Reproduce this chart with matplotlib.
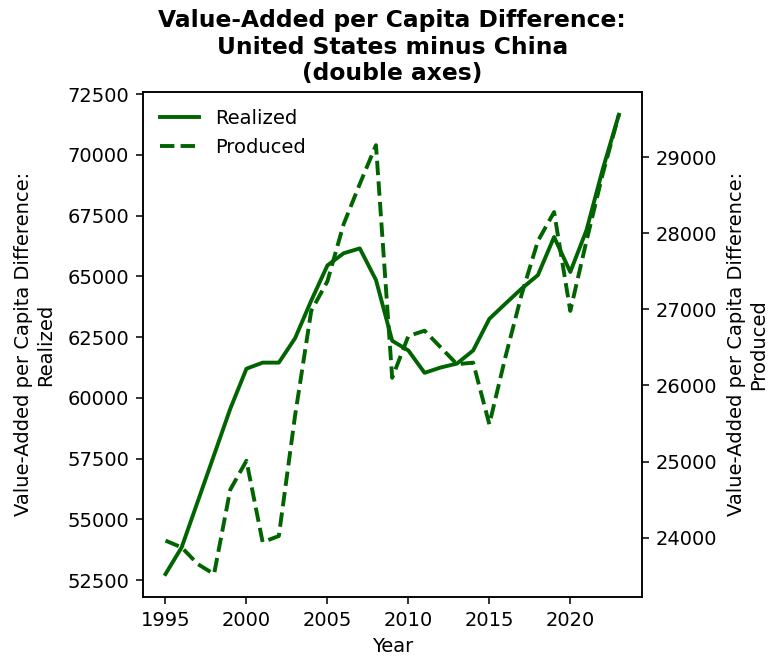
import matplotlib
matplotlib.use("Agg")
import matplotlib.pyplot as plt

years = list(range(1995, 2024))
realized = [52750, 53850, 55750, 57650, 59550, 61200, 61450, 61450, 62450, 64000,
            65450, 65950, 66150, 64850, 62350, 61950, 61030, 61250, 61410, 61950,
            63250, 63880, 64500, 65050, 66620, 65180, 66900, 69400, 71650]
produced = [23960, 23870, 23650, 23520, 24630, 25010, 23940, 24020, 25600, 26980,
            27370, 28120, 28650, 29160, 26100, 26650, 26720, 26500, 26280, 26300,
            25490, 26380, 27200, 27900, 28280, 26980, 27900, 28780, 29560]

color = "darkgreen"

fig = plt.figure(figsize=(772/140, 657/140), dpi=140)
ax = fig.add_axes([0.185, 0.0913, 0.646, 0.769])
l1, = ax.plot(years, realized, color=color, lw=2, label="Realized")
ax.set_xlabel("Year")
ax.set_ylabel("Value-Added per Capita Difference:\nRealized", labelpad=6.5)
ax2 = ax.twinx()
l2, = ax2.plot(years, produced, color=color, lw=2, ls="--", label="Produced")
ax2.set_ylabel("Value-Added per Capita Difference:\nProduced", labelpad=5.5)
ax.set_title("Value-Added per Capita Difference:\nUnited States minus China\n(double axes)",
             fontweight="bold")
ax.legend(handles=[l1, l2], loc="upper left", frameon=False)

fig.savefig("out.png", dpi=140)
